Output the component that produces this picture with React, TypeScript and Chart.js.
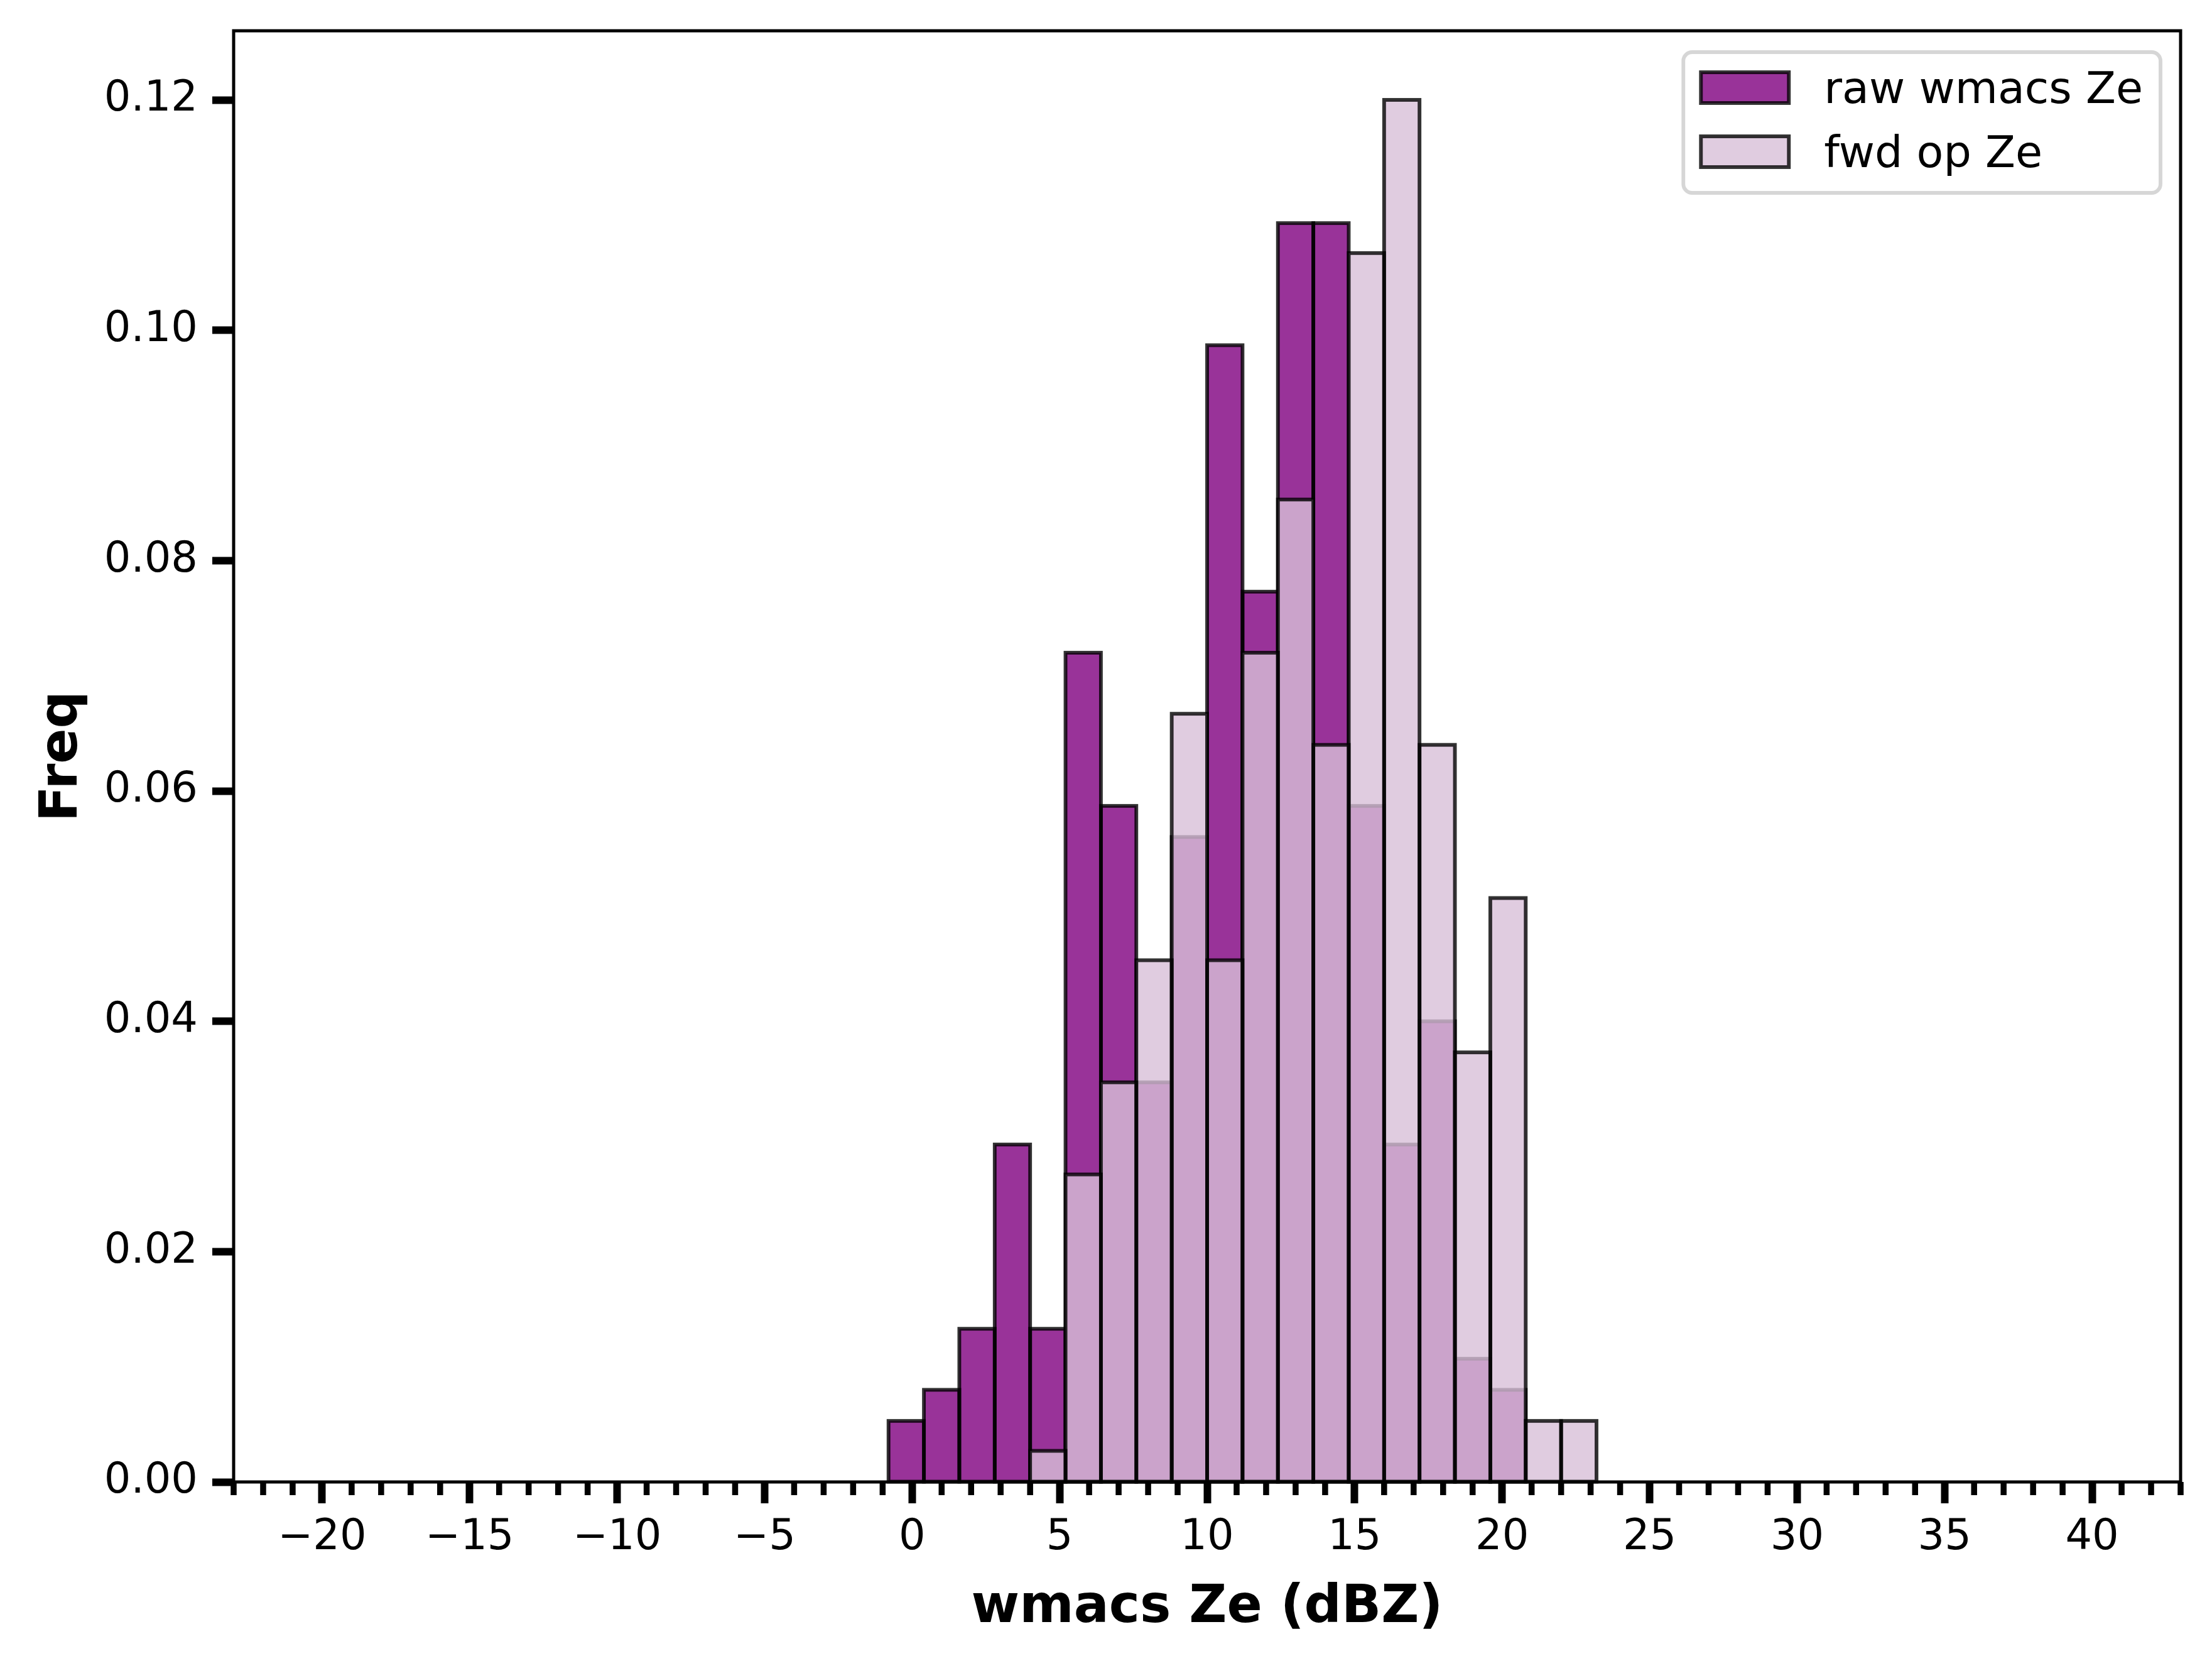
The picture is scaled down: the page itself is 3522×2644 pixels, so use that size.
import React, { useEffect, useRef } from 'react';
import { Chart, registerables } from 'chart.js';

Chart.register(...registerables);

// ---- data ----
const binCenters = [-0.2, 1.0, 2.2, 3.4, 4.6, 5.8, 7.0, 8.2, 9.4, 10.6, 11.8, 13.0, 14.2, 15.4, 16.6, 17.8, 19.0, 20.2, 21.4, 22.6];
const rawFreq = [0.0053, 0.0080, 0.0133, 0.0293, 0.0133, 0.0720, 0.0587, 0.0347, 0.0560, 0.0987, 0.0773, 0.1093, 0.1093, 0.0587, 0.0293, 0.0400, 0.0107, 0.0080, 0, 0];
const fwdFreq = [0, 0, 0, 0, 0.0027, 0.0267, 0.0347, 0.0453, 0.0667, 0.0453, 0.0720, 0.0853, 0.0640, 0.1067, 0.1200, 0.0640, 0.0373, 0.0507, 0.0053, 0.0053];
const seriesLabels = ['raw wmacs Ze', 'fwd op Ze'];
const xTicks = [-20, -15, -10, -5, 0, 5, 10, 15, 20, 25, 30, 35, 40];
const yTicks = [0, 0.02, 0.04, 0.06, 0.08, 0.10, 0.12];
const xLabel = 'wmacs Ze (dBZ)';
const yLabel = 'Freq';

// ---- style ----
const FONT = "'DejaVu Sans', 'Liberation Sans', sans-serif";
const RAW_FILL = 'rgba(128,0,128,0.8)';
const FWD_FILL = 'rgba(216,191,216,0.8)';
const EDGE = 'rgba(0,0,0,0.8)';
const EDGE_W = 5.9;
const SPINE_W = 5;
const MAJOR_LEN = 34;
const MAJOR_W = 12;
const MINOR_LEN = 21;
const MINOR_W = 9.5;
const TICK_FONT = 67;
const LABEL_FONT = 83;
const LEGEND_FONT = 70;

const W = 3522;
const H = 2644;

const histEdges = {
  id: 'histEdges',
  afterDatasetDraw(chart: any, args: any) {
    const ctx = chart.ctx;
    const meta = args.meta;
    ctx.save();
    ctx.lineWidth = EDGE_W;
    ctx.strokeStyle = EDGE;
    ctx.lineJoin = 'miter';
    meta.data.forEach((el: any) => {
      const p = el.getProps(['x', 'y', 'base', 'width'], true);
      const h = p.base - p.y;
      if (Math.abs(h) < 0.5) return;
      ctx.strokeRect(p.x - p.width / 2, p.y, p.width, h);
    });
    ctx.restore();
  },
};

const axesFrame = {
  id: 'axesFrame',
  afterDatasetsDraw(chart: any) {
    const { ctx, chartArea: a, scales } = chart;
    const xs = scales.x;
    ctx.save();
    ctx.fillStyle = '#000';
    for (let v = Math.ceil(xs.min); v <= Math.floor(xs.max); v++) {
      if (v % 5 === 0) continue;
      const px = xs.getPixelForValue(v);
      ctx.fillRect(px - MINOR_W / 2, a.bottom, MINOR_W, MINOR_LEN);
    }
    ctx.strokeStyle = '#000';
    ctx.lineWidth = SPINE_W;
    ctx.strokeRect(a.left, a.top, a.right - a.left, a.bottom - a.top);
    ctx.restore();
  },
};

const boxLegend = {
  id: 'boxLegend',
  afterDraw(chart: any) {
    const { ctx, chartArea: a } = chart;
    const fs = LEGEND_FONT;
    ctx.save();
    ctx.font = `${fs}px ${FONT}`;
    const ds = chart.data.datasets;
    const tw = Math.max(...ds.map((d: any) => ctx.measureText(d.label).width));
    const pad = 0.4 * fs;
    const hl = 2 * fs;
    const hh = 0.7 * fs;
    const htp = 0.8 * fs;
    const rowStep = 102;
    const w = pad + hl + htp + tw + pad;
    const h = 224;
    const right = a.right - 32;
    const top = a.top + 34;
    const left = right - w;
    ctx.beginPath();
    (ctx as any).roundRect(left, top, w, h, 0.2 * fs);
    ctx.fillStyle = 'rgba(255,255,255,0.8)';
    ctx.fill();
    ctx.lineWidth = 5.9;
    ctx.strokeStyle = 'rgba(204,204,204,0.8)';
    ctx.stroke();
    ds.forEach((d: any, i: number) => {
      const hy = top + 32 + i * rowStep;
      const hx = left + pad;
      ctx.fillStyle = d.backgroundColor;
      ctx.fillRect(hx, hy, hl, hh);
      ctx.strokeStyle = EDGE;
      ctx.lineWidth = EDGE_W;
      ctx.strokeRect(hx, hy, hl, hh);
      ctx.fillStyle = '#000';
      ctx.textAlign = 'left';
      ctx.textBaseline = 'alphabetic';
      ctx.fillText(d.label, hx + hl + htp, hy + hh);
    });
    ctx.restore();
  },
};

export default function App() {
  const ref = useRef<HTMLCanvasElement | null>(null);

  useEffect(() => {
    if (!ref.current) return;
    Chart.defaults.font.family = FONT;
    const chart = new Chart(ref.current, {
      type: 'bar',
      data: {
        datasets: [
          {
            label: seriesLabels[0],
            data: binCenters.map((x, i) => ({ x, y: rawFreq[i] })),
            backgroundColor: RAW_FILL,
            borderWidth: 0,
            inflateAmount: 0,
            grouped: false,
            barPercentage: 1,
            categoryPercentage: 1,
            order: 2,
          } as any,
          {
            label: seriesLabels[1],
            data: binCenters.map((x, i) => ({ x, y: fwdFreq[i] })),
            backgroundColor: FWD_FILL,
            borderWidth: 0,
            inflateAmount: 0,
            grouped: false,
            barPercentage: 1,
            categoryPercentage: 1,
            order: 1,
          } as any,
        ],
      },
      options: {
        animation: false,
        responsive: false,
        maintainAspectRatio: false,
        devicePixelRatio: 1,
        layout: { padding: { left: 0, top: 49, right: 50, bottom: 0 } },
        plugins: {
          legend: { display: false },
          tooltip: { enabled: false },
        },
        scales: {
          x: {
            type: 'linear',
            min: -23,
            max: 43,
            offset: false,
            grid: {
              display: true,
              offset: false,
              drawOnChartArea: false,
              drawTicks: true,
              tickLength: MAJOR_LEN,
              tickWidth: MAJOR_W,
              tickColor: '#000',
            },
            border: { display: false },
            afterBuildTicks: (s: any) => {
              s.ticks = xTicks.map((v) => ({ value: v }));
            },
            ticks: {
              autoSkip: false,
              maxRotation: 0,
              minRotation: 0,
              padding: 15,
              color: '#000',
              font: { family: FONT, size: TICK_FONT },
              callback: (v: any) => (Number(v) < 0 ? '\u2212' + Math.abs(Number(v)) : String(v)),
            },
            title: {
              display: true,
              text: xLabel,
              color: '#000',
              font: { family: FONT, size: LABEL_FONT, weight: 'bold' },
              padding: { top: 0, bottom: 34 },
            },
            afterFit: (s: any) => {
              s.height = H - 2359;
              s.paddingLeft = 0;
              s.paddingRight = 0;
            },
          },
          y: {
            type: 'linear',
            min: 0,
            max: 0.126,
            grid: {
              display: true,
              drawOnChartArea: false,
              drawTicks: true,
              tickLength: MAJOR_LEN,
              tickWidth: MAJOR_W,
              tickColor: '#000',
            },
            border: { display: false },
            afterBuildTicks: (s: any) => {
              s.ticks = yTicks.map((v) => ({ value: v }));
            },
            ticks: {
              padding: 23,
              color: '#000',
              font: { family: FONT, size: TICK_FONT },
              callback: (v: any) => Number(v).toFixed(2),
            },
            title: {
              display: true,
              text: yLabel,
              color: '#000',
              font: { family: FONT, size: LABEL_FONT, weight: 'bold' },
              padding: { top: 51, bottom: 0 },
            },
            afterFit: (s: any) => {
              s.width = 372;
              s.paddingTop = 0;
              s.paddingBottom = 0;
            },
          },
        },
      } as any,
      plugins: [histEdges, axesFrame, boxLegend],
    });
    return () => chart.destroy();
  }, []);

  return (
    <div style={{ position: 'absolute', left: 0, top: 0, width: W, height: H, background: '#fff' }}>
      <canvas ref={ref} width={W} height={H} style={{ width: W + 'px', height: H + 'px', display: 'block' }} />
    </div>
  );
}
